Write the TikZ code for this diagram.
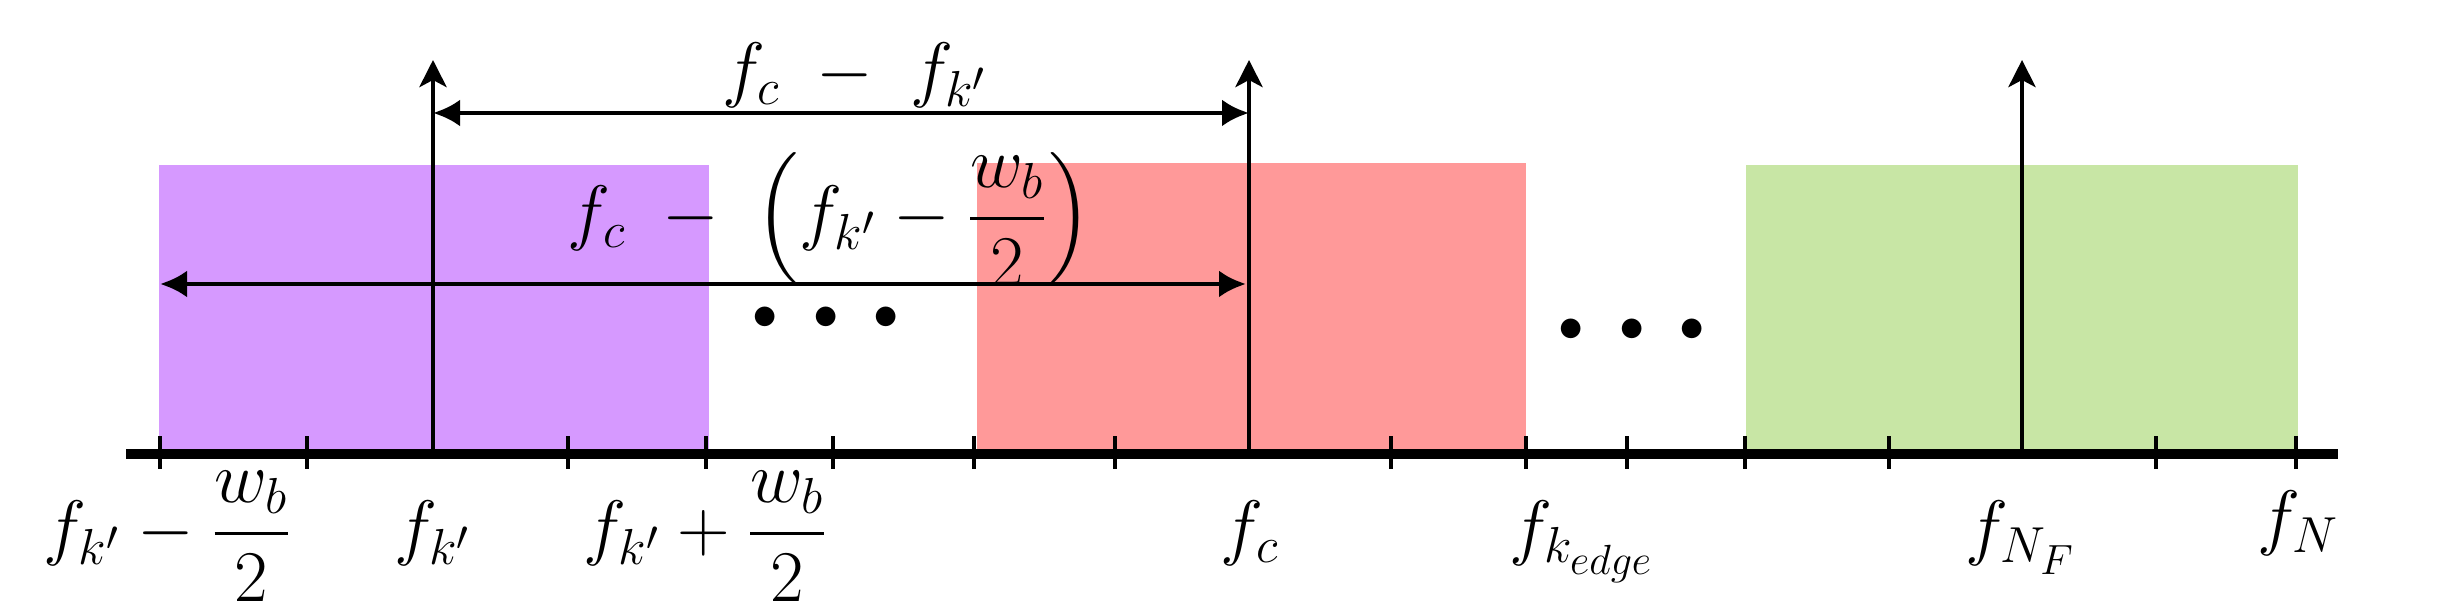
\documentclass[tikz,border=0pt]{standalone}
\usepackage{amsmath}
\usetikzlibrary{arrows.meta, positioning}
\definecolor{bandPurple}{RGB}{214,153,255}
\definecolor{bandRed}{RGB}{255,153,153}
\definecolor{bandGreen}{RGB}{200,230,165}
\tikzset{
  tickMark/.style={line width=1.4pt},
  freqArrow/.style={line width=1.4pt, -{Stealth[length=0.27cm, width=0.27cm, inset=0.07cm]}},
  gapArrow/.style={line width=1.4pt, {Latex[length=0.27cm, width=0.27cm]}-{Latex[length=0.27cm, width=0.27cm]}},
  freqLabel/.style={anchor=base, inner sep=0pt, font=\huge},
  gapLabel/.style={inner sep=0pt, font=\huge},
  dotsLabel/.style={inner sep=0pt, font=\Large},
}

\begin{document}
\begin{tikzpicture}
\useasboundingbox (0,0) rectangle (24.6,6.13);
\fill[bandPurple] (1.59,1.59) rectangle (7.09,4.48);
\fill[bandRed] (9.77,1.59) rectangle (15.26,4.50);
\fill[bandGreen] (17.46,1.59) rectangle (22.98,4.48);

\draw[line width=2.85pt] (1.26,1.59) -- (23.38,1.59);
\draw[tickMark] (1.60,1.44) -- (1.60,1.77);
\draw[tickMark] (3.07,1.44) -- (3.07,1.77);
\draw[tickMark] (5.68,1.44) -- (5.68,1.77);
\draw[tickMark] (7.06,1.44) -- (7.06,1.77);
\draw[tickMark] (8.33,1.44) -- (8.33,1.77);
\draw[tickMark] (9.74,1.44) -- (9.74,1.77);
\draw[tickMark] (11.15,1.44) -- (11.15,1.77);
\draw[tickMark] (13.91,1.44) -- (13.91,1.77);
\draw[tickMark] (15.26,1.44) -- (15.26,1.77);
\draw[tickMark] (16.27,1.44) -- (16.27,1.77);
\draw[tickMark] (17.45,1.44) -- (17.45,1.77);
\draw[tickMark] (18.89,1.44) -- (18.89,1.77);
\draw[tickMark] (21.56,1.44) -- (21.56,1.77);
\draw[tickMark] (22.96,1.44) -- (22.96,1.77);

\coordinate (kPrimeBase) at (4.33,1.59);
\coordinate (kPrimeTop) at (4.33,5.53);
\coordinate (centerBase) at (12.49,1.59);
\coordinate (centerTop) at (12.49,5.53);
\coordinate (nyqBase) at (20.22,1.59);
\coordinate (nyqTop) at (20.22,5.53);
\draw[freqArrow] (kPrimeBase) -- (kPrimeTop);
\draw[freqArrow] (centerBase) -- (centerTop);
\draw[freqArrow] (nyqBase) -- (nyqTop);

\coordinate (gapOneLeft) at (4.33,5.00);
\coordinate (gapOneRight) at (12.49,5.00);
\draw[gapArrow] (gapOneLeft) -- (gapOneRight);
\coordinate (gapTwoLeft) at (1.60,3.29);
\coordinate (gapTwoRight) at (12.46,3.29);
\draw[gapArrow] (gapTwoLeft) -- (gapTwoRight);

\node[gapLabel] (gapOneLabel) at (8.55,5.38) {$f_c \;-\; f_{k'}$};
\node[gapLabel] (gapTwoLabel) at (8.30,3.93) {$f_c \;-\; \left(f_{k'} - \dfrac{w_b}{2}\right)$};

\node[dotsLabel] (dotsOne) at (8.26,2.95) {$\bullet\hspace{0.24cm}\bullet\hspace{0.24cm}\bullet$};
\node[dotsLabel] (dotsTwo) at (16.32,2.83) {$\bullet\hspace{0.24cm}\bullet\hspace{0.24cm}\bullet$};

\node[freqLabel] (lowEdge) at (1.68,0.61) {$f_{k'} - \dfrac{w_b}{2}$};
\node[freqLabel] (kPrime) at (4.33,0.61) {$f_{k'}$};
\node[freqLabel] (highEdge) at (7.06,0.61) {$f_{k'} + \dfrac{w_b}{2}$};
\node[freqLabel] (center) at (12.50,0.61) {$f_c$};
\node[freqLabel] (kEdge) at (15.82,0.61) {$f_{k_{edge}}$};
\node[freqLabel] (nyqF) at (20.21,0.61) {$f_{N_F}$};
\node[freqLabel] (nyq) at (22.98,0.71) {$f_N$};

\end{tikzpicture}
\end{document}
